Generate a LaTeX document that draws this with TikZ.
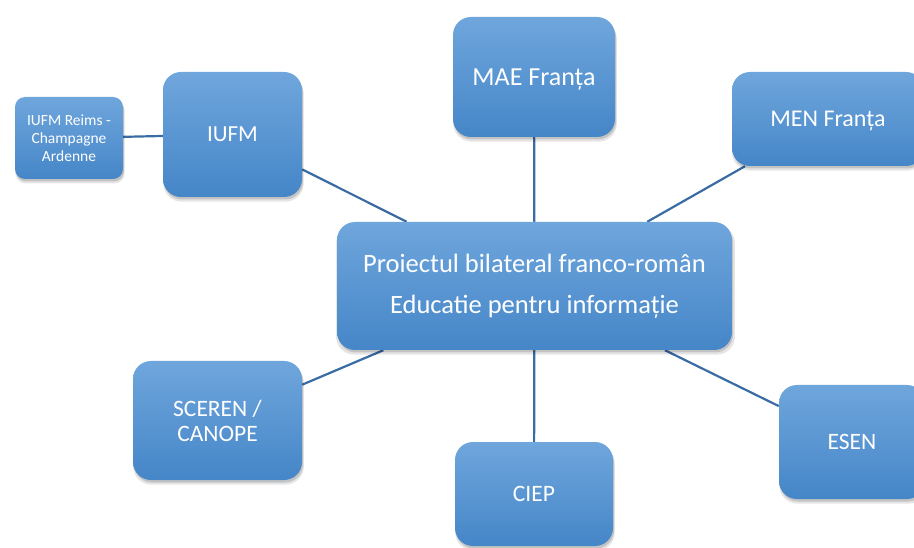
\documentclass[tikz,border=0pt]{standalone}
\usepackage{fontspec}
\setmainfont{Carlito}
\usetikzlibrary{shadows}
\definecolor{boxtop}{HTML}{6FA6DC}
\definecolor{boxbot}{HTML}{4586C8}
\definecolor{linkc}{HTML}{3A6CA4}
\pgfdeclarelayer{bg}
\pgfsetlayers{bg,main}
\tikzset{
  softshadow/.style={
    general shadow={fill=black, opacity=0.10, shadow xshift=1pt, shadow yshift=-4pt, shadow scale=1.01},
    general shadow={fill=black, opacity=0.15, shadow xshift=1pt, shadow yshift=-2.5pt},
  },
  orgbox/.style={softshadow, rounded corners=18pt, top color=boxtop, bottom color=boxbot,
    draw=none, text=white, align=center, inner sep=0pt},
  smallbox/.style={orgbox, rounded corners=10pt},
  link/.style={draw=linkc, line width=2.2pt},
}
\begin{document}
\begin{tikzpicture}[x=1pt,y=-1pt]
\useasboundingbox (0,0) rectangle (914,548);
\clip (0,0) rectangle (914,548);
\node[smallbox, minimum width=108pt, minimum height=82pt,
  font=\fontsize{15.5}{18}\selectfont] (reims) at (69,138) {IUFM Reims -\\Champagne\\Ardenne};
\node[orgbox, minimum width=139pt, minimum height=125pt,
  font=\fontsize{23}{28}\selectfont] (iufm) at (232.5,134.5) {IUFM};
\node[orgbox, minimum width=162pt, minimum height=120pt, text depth=0pt,
  font=\fontsize{26}{30}\selectfont] (mae) at (534,77) {MAE Franța};
\node[orgbox, minimum width=192pt, minimum height=94pt, text depth=0pt,
  font=\fontsize{24}{28}\selectfont] (men) at (828,119) {MEN Franța};
\node[orgbox, minimum width=395pt, minimum height=128pt,
  font=\fontsize{26.5}{41}\selectfont] (center) at (534.5,286) {Proiectul bilateral franco-român\\Educatie pentru informație};
\node[orgbox, minimum width=169pt, minimum height=119pt,
  font=\fontsize{23.5}{25}\selectfont] (sceren) at (217.5,420.5) {SCEREN /\\CANOPE};
\node[orgbox, minimum width=158pt, minimum height=104pt,
  font=\fontsize{23.5}{28}\selectfont] (ciep) at (534,494) {CIEP};
\node[orgbox, minimum width=146pt, minimum height=114pt,
  font=\fontsize{23.5}{28}\selectfont] (esen) at (852,442) {ESEN};
\begin{pgfonlayer}{bg}
\draw[link] (reims) -- (iufm);
\draw[link] (iufm) -- (center);
\draw[link] (mae) -- (center);
\draw[link] (men) -- (center);
\draw[link] (center) -- (sceren);
\draw[link] (center) -- (ciep);
\draw[link] (center) -- (esen);
\end{pgfonlayer}
\end{tikzpicture}
\end{document}
